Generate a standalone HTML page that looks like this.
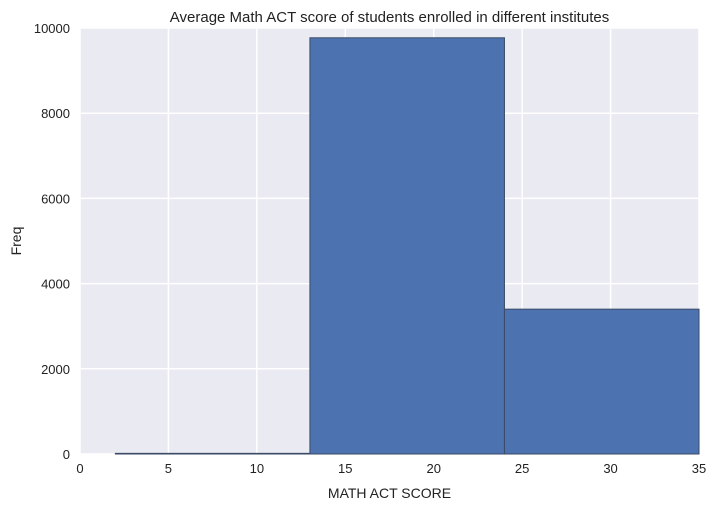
<!DOCTYPE html>
<html><head><meta charset="utf-8"><style>
body{margin:0;background:#fff;font-family:"Liberation Sans",Arial,sans-serif}
</style></head><body>
<svg id="chart" width="717" height="509" xmlns="http://www.w3.org/2000/svg" font-family="Liberation Sans, Arial, sans-serif"></svg>
<script>
const binEdges=[2,13,24,35];
const counts=[15,9770,3400];
const xTicks=[0,5,10,15,20,25,30,35];
const yTicks=[0,2000,4000,6000,8000,10000];
const L=80,R=699,T=28,B=454;
const xs=v=>L+(v-0)/35*(R-L);
const ys=v=>B-v/10000*(B-T);
const svg=document.getElementById('chart');
const NS='http://www.w3.org/2000/svg';
function mk(tag,attrs,parent){const e=document.createElementNS(NS,tag);for(const k in attrs)e.setAttribute(k,attrs[k]);(parent||svg).appendChild(e);return e;}
const bg=mk('rect',{x:L,y:T,width:R-L,height:B-T,fill:'#eaeaf2'});


xTicks.forEach(t=>{
 const g=mk('line',{x1:xs(t),x2:xs(t),y1:T,y2:B,stroke:'#fff','stroke-width':1.5});
 
 
 const tx=mk('text',{x:xs(t),y:B+19,'text-anchor':'middle','font-size':13,fill:'#222'});tx.textContent=t;
 
 
});
yTicks.forEach(t=>{
 const g=mk('line',{x1:L,x2:R,y1:ys(t),y2:ys(t),stroke:'#fff','stroke-width':1.5});
 
 
 const tx=mk('text',{x:L-10,y:ys(t)+5,'text-anchor':'end','font-size':13,fill:'#222'});tx.textContent=t;
 
 
});
counts.forEach((c,i)=>{
 const x0=xs(binEdges[i]),x1=xs(binEdges[i+1]);
 const r=mk('rect',{x:x0,y:ys(c),width:x1-x0,height:B-ys(c),fill:'#4c72b0',stroke:'#3a4a66','stroke-width':1});
 
 
});
const title=mk('text',{x:(L+R)/2,y:22,'text-anchor':'middle','font-size':15,fill:'#222'});title.textContent='Average Math ACT score of students enrolled in different institutes';


const xl=mk('text',{x:(L+R)/2,y:498,'text-anchor':'middle','font-size':14,fill:'#222'});xl.textContent='MATH ACT SCORE';


const yl=mk('text',{x:21,y:(T+B)/2,'text-anchor':'middle','font-size':14,fill:'#222',transform:`rotate(-90 21 ${(T+B)/2})`});yl.textContent='Freq';


</script>
</body></html>
